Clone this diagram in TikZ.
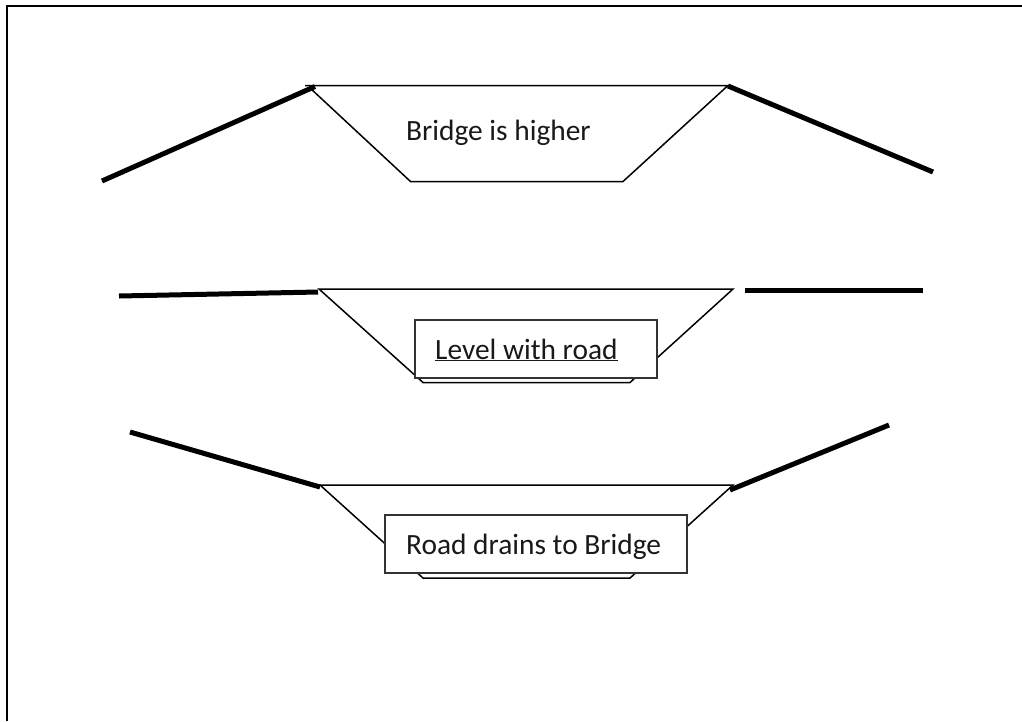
\documentclass[tikz,border=0pt]{standalone}
\usepackage{fontspec}
\setmainfont{Carlito}
\tikzset{
  x=1pt,y=-1pt,
  frameline/.style={line width=2.2pt,black},
  road/.style={line width=5pt,black},
  ditch/.style={line width=1.5pt,black,line join=miter},
  labelbox/.style={draw=black!80,line width=1.2pt,fill=white,minimum width=#1,minimum height=58pt,inner sep=0pt},
  caption/.style={anchor=base west,inner sep=0pt,font=\fontsize{29.4pt}{34pt}\selectfont,text=black!90},
}
\begin{document}
\begin{tikzpicture}
\useasboundingbox (0,0) rectangle (1022,721);
\fill[white] (0,0) rectangle (1022,721);
\coordinate (fa) at (7,721);
\coordinate (fb) at (7,6);
\coordinate (fc) at (1022,6);
\draw[frameline] (fa) -- (fb) -- (fc);
% upper section
\coordinate (a1) at (310,88);
\coordinate (a0) at (305,85.5);
\coordinate (a2) at (410.5,181.5);
\coordinate (a3) at (623,181.5);
\coordinate (a4) at (728,85.5);
\draw[ditch] (a1) -- (a2) -- (a3) -- (a4) -- (a0);
\coordinate (ra) at (102,181);
\coordinate (rb) at (315,86.5);
\coordinate (rc) at (728,86);
\coordinate (rd) at (933,172);
\draw[road] (ra) -- (rb);
\draw[road] (rc) -- (rd);
\node[caption] (t1) at (406,140.5) {Bridge is higher};
% middle section
\coordinate (b1) at (319,289);
\coordinate (b2) at (423,382.5);
\coordinate (b3) at (630,382.5);
\coordinate (b4) at (733,289);
\draw[ditch] (b1) -- (b2) -- (b3) -- (b4) -- cycle;
\coordinate (re) at (119,296);
\coordinate (rf) at (318,292);
\coordinate (rg) at (745,290);
\coordinate (rh) at (923,290);
\draw[road] (re) -- (rf);
\draw[road] (rg) -- (rh);
\node[labelbox=242pt] (b5) at (536,349) {};
\node[caption] (t2) at (435,359) {\underline{Level with road}};
% lower section
\coordinate (c1) at (320,485);
\coordinate (c2) at (423,578);
\coordinate (c3) at (630,578);
\coordinate (c4) at (733,485);
\draw[ditch] (c1) -- (c2) -- (c3) -- (c4) -- cycle;
\coordinate (ri) at (130,432);
\coordinate (rj) at (320,487);
\coordinate (rk) at (730,490);
\coordinate (rl) at (889,425);
\draw[road] (ri) -- (rj);
\draw[road] (rk) -- (rl);
\node[labelbox=302pt] (c5) at (536,544) {};
\node[caption] (t3) at (406,554) {Road drains to Bridge};
\end{tikzpicture}
\end{document}
